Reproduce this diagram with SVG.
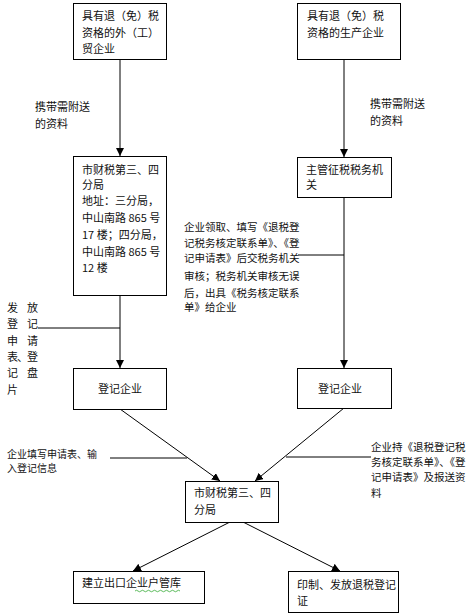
<svg xmlns="http://www.w3.org/2000/svg" width="473" height="613" viewBox="0 0 473 613">
<defs>
<style>
.box{fill:#fff;stroke:#000;stroke-width:1}
.ln{stroke:#000;stroke-width:1;fill:none}
text{font-family:"Noto Sans CJK SC","Noto Sans",sans-serif;font-size:11px;fill:#111}
.s{font-size:10.5px}
.t{font-size:10px}
</style>
<marker id="ah" viewBox="0 0 10 10" refX="10" refY="5" markerWidth="8" markerHeight="8" markerUnits="userSpaceOnUse" orient="auto">
<path d="M0,0 L10,5 L0,10 Z" fill="#000"/>
</marker>
</defs>
<rect width="473" height="613" fill="#fff"/>
<g id="connectors">
<line class="ln" x1="120" y1="59" x2="120" y2="156" marker-end="url(#ah)"/>
<line class="ln" x1="344" y1="59" x2="344" y2="157" marker-end="url(#ah)"/>
<line class="ln" x1="120" y1="295" x2="120" y2="368" marker-end="url(#ah)"/>
<line class="ln" x1="38" y1="328" x2="120" y2="328"/>
<line class="ln" x1="344" y1="197" x2="344" y2="368" marker-end="url(#ah)"/>
<line class="ln" x1="298" y1="255" x2="344" y2="255"/>
<line class="ln" x1="120" y1="409" x2="220" y2="481" marker-end="url(#ah)"/>
<line class="ln" x1="344" y1="408" x2="255" y2="481" marker-end="url(#ah)"/>
<line class="ln" x1="110" y1="458" x2="187" y2="458"/>
<line class="ln" x1="286" y1="457" x2="371" y2="457"/>
<line class="ln" x1="230" y1="522" x2="133" y2="571" marker-end="url(#ah)"/>
<line class="ln" x1="243" y1="522" x2="340" y2="571" marker-end="url(#ah)"/>
</g>
<g id="n1">
<rect class="box" x="73.500" y="3.500" width="93" height="56"/>
<text x="82" y="20">具有退（免）税</text>
<text x="82" y="37">资格的外（工）</text>
<text x="82" y="53">贸企业</text>
</g>
<g id="n2">
<rect class="box" x="297.500" y="3.500" width="103" height="56"/>
<text x="307" y="20">具有退（免）税</text>
<text x="307" y="37">资格的生产企业</text>
</g>
<g id="l1">
<text x="35" y="111">携带需附送</text>
<text x="35" y="128">的资料</text>
</g>
<g id="l2">
<text x="370" y="108">携带需附送</text>
<text x="370" y="125">的资料</text>
</g>
<g id="n3">
<rect class="box" x="73.500" y="156.500" width="93" height="139"/>
<text x="82" y="174">市财税第三、四</text>
<text x="82" y="189">分局</text>
<text x="82" y="205">地址：三分局，</text>
<text x="82" y="222">中山南路 865 号</text>
<text x="82" y="239">17 楼；四分局，</text>
<text x="82" y="256">中山南路 865 号</text>
<text x="82" y="272">12 楼</text>
</g>
<g id="n4">
<rect class="box" x="297.500" y="157.500" width="94" height="40"/>
<text x="306" y="174">主管征税税务机</text>
<text x="306" y="189">关</text>
</g>
<g id="l3">
<text class="s" x="184" y="231">企业领取、填写《退税登</text>
<text class="s" x="184" y="247">记税务核定联系单》、《登</text>
<text class="s" x="184" y="262">记申请表》后交税务机关</text>
<text class="s" x="184" y="280">审核；税务机关审核无误</text>
<text class="s" x="184" y="297">后，出具《税务核定联系</text>
<text class="s" x="184" y="311">单》给企业</text>
</g>
<g id="l4">
<text x="7" y="312">发</text><text x="27" y="312">放</text>
<text x="7" y="328">登</text><text x="27" y="328">记</text>
<text x="7" y="345">申</text><text x="27" y="345">请</text>
<text x="7" y="361">表</text><text x="17" y="361" font-size="9">、</text><text x="27" y="361">登</text>
<text x="7" y="377">记</text><text x="27" y="377">盘</text>
<text x="7" y="394">片</text>
</g>
<g id="l5">
<text class="t" x="7" y="458">企业填写申请表、输</text>
<text class="t" x="7" y="472">入登记信息</text>
</g>
<g id="n5">
<rect class="box" x="73.500" y="368.500" width="93" height="41"/>
<text x="120" y="393" text-anchor="middle">登记企业</text>
</g>
<g id="n6">
<rect class="box" x="297.500" y="368.500" width="94" height="40"/>
<text x="340" y="393" text-anchor="middle">登记企业</text>
</g>
<g id="l6">
<text class="s" x="371" y="451">企业持《退税登记税</text>
<text class="s" x="371" y="466">务核定联系单》、《登</text>
<text class="s" x="371" y="481">记申请表》及报送资</text>
<text class="s" x="371" y="497">料</text>
</g>
<g id="n7">
<rect class="box" x="185.500" y="481.500" width="93" height="41"/>
<text x="194" y="497">市财税第三、四</text>
<text x="194" y="514">分局</text>
</g>
<g id="n8">
<rect class="box" x="73.500" y="571.500" width="131" height="32"/>
<text x="82" y="587">建立出口企业户管库</text>
<path d="M135,591 q1.5,-1.5 3,0 t3,0 t3,0 t3,0 t3,0 t3,0 t3,0 t3,0 t3,0 t3,0 t3,0 t3,0 t3,0 t3,0 t3,0" stroke="#3a3" stroke-width="0.8" fill="none"/>
</g>
<g id="n9">
<rect class="box" x="288.500" y="571.500" width="110" height="41"/>
<text x="297" y="589">印制、发放退税登记</text>
<text x="297" y="605">证</text>
</g>
</svg>
